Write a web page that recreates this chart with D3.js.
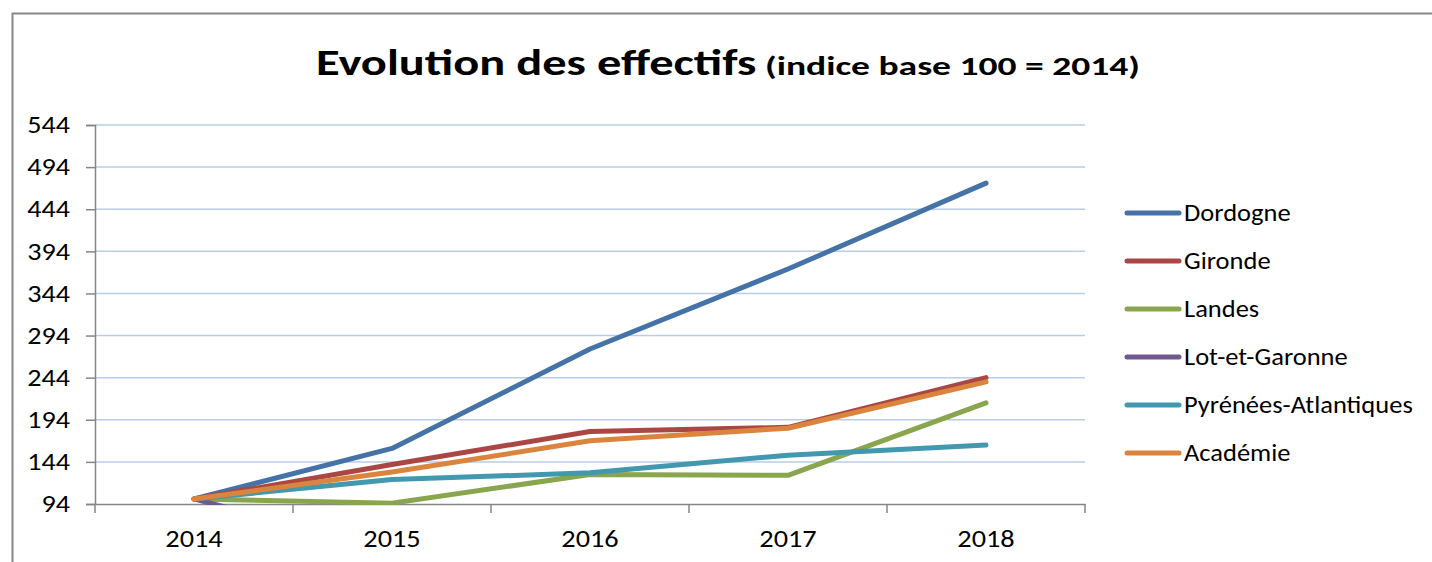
<!DOCTYPE html>
<html><head><meta charset="utf-8">
<script src="https://cdn.jsdelivr.net/npm/d3@7"></script>
<style>body{margin:0;background:#fff;} svg{display:block;}</style>
</head><body>
<script>
const years = ["2014","2015","2016","2017","2018"];
const seriesNames = ["Dordogne","Gironde","Landes","Lot-et-Garonne","Pyrénées-Atlantiques","Académie"];
const dordogne = [100, 160, 278, 373, 475];
const gironde = [100, 141, 180, 185, 244];
const landes = [100, 95, 129, 128, 214];
const lotEtGaronne = [100, 39, 45, 50, 60];
const pyrenees = [100, 123, 131, 152, 164];
const academie = [100, 132, 169, 184, 239];
const yTicks = [94, 144, 194, 244, 294, 344, 394, 444, 494, 544];
const colors = ["#4572A7","#AA4643","#89A54E","#71588F","#4198AF","#DB843D"];
const allValues = [dordogne, gironde, landes, lotEtGaronne, pyrenees, academie];

const W = 1432, H = 562;
const svg = d3.select("body").append("svg").attr("width", W).attr("height", H);
const font = "Carlito, Calibri, Lato, sans-serif";

function stretch(sel, sx) {
  sel.each(function () {
    const t = d3.select(this);
    const x = +t.attr("x") || 0, y = +t.attr("y") || 0;
    t.attr("x", 0).attr("y", 0).attr("transform", `translate(${x},${y}) scale(${sx},1)`);
  });
}

// outer frame
svg.append("rect").attr("x", 12.5).attr("y", 13.5).attr("width", W + 10).attr("height", H + 10)
  .attr("fill", "#fff").attr("stroke", "#888").attr("stroke-width", 2);

const L = 95, R = 1085, T = 125, B = 504;
const x = d3.scaleBand().domain(years).range([L, R]);
const y = d3.scaleLinear().domain([94, 544]).range([B, T]);

// gridlines
svg.append("g").selectAll("line").data(yTicks.slice(1)).join("line")
  .attr("x1", L).attr("x2", R).attr("y1", d => y(d)).attr("y2", d => y(d))
  .attr("stroke", "#B9CDE5").attr("stroke-width", 1.5);

// y axis
const yAxis = svg.append("g").attr("transform", `translate(${L},0)`)
  .call(d3.axisLeft(y).tickValues(yTicks).tickSize(9).tickPadding(16));
yAxis.select(".domain").attr("stroke", "#868686").attr("stroke-width", 1.5);
yAxis.selectAll(".tick line").attr("stroke", "#868686").attr("stroke-width", 1.5);
yAxis.selectAll("text").attr("font-family", font).attr("font-size", 24).attr("fill", "#000");
stretch(yAxis.selectAll("text"), 1.17);

// x axis
const xAxis = svg.append("g").attr("transform", `translate(0,${B})`)
  .call(d3.axisBottom(x).tickSize(0).tickPadding(26));
xAxis.select(".domain").attr("stroke", "#868686").attr("stroke-width", 1.5);
xAxis.selectAll("text").attr("font-family", font).attr("font-size", 24).attr("fill", "#000");
stretch(xAxis.selectAll("text"), 1.18);
const bounds = years.map(d => x(d)).concat([R]);
xAxis.selectAll(".sep").data(bounds).join("line").attr("class", "sep")
  .attr("x1", d => d).attr("x2", d => d).attr("y1", 0).attr("y2", 9)
  .attr("stroke", "#868686").attr("stroke-width", 1.5);

// clip
svg.append("clipPath").attr("id", "clip").append("rect")
  .attr("x", L - 10).attr("y", T - 10).attr("width", R - L + 20).attr("height", B - T + 11);

const line = d3.line().x((d, i) => x(years[i]) + x.bandwidth() / 2).y(d => y(d));
svg.append("g").attr("clip-path", "url(#clip)").selectAll("path").data(allValues).join("path")
  .attr("d", d => line(d)).attr("fill", "none")
  .attr("stroke", (d, i) => colors[i]).attr("stroke-width", 5)
  .attr("stroke-linecap", "round").attr("stroke-linejoin", "round");

// legend
const lg = svg.append("g");
seriesNames.forEach((n, i) => {
  const yy = 213 + i * 48;
  lg.append("line").attr("x1", 1127).attr("x2", 1179).attr("y1", yy).attr("y2", yy)
    .attr("stroke", colors[i]).attr("stroke-width", 5).attr("stroke-linecap", "round");
  const tx = lg.append("text").attr("x", 1184).attr("y", yy + 8).text(n)
    .attr("font-family", font).attr("font-size", 25).attr("fill", "#000");
  stretch(tx, 1.06);
});

// title
const t1 = svg.append("text").attr("x", 316).attr("y", 75)
  .attr("font-family", font).attr("font-weight", "bold").attr("font-size", 37).attr("fill", "#000")
  .text("Evolution des effectifs");
stretch(t1, 1.31);
const t2 = svg.append("text").attr("x", 765).attr("y", 75)
  .attr("font-family", font).attr("font-weight", "bold").attr("font-size", 27).attr("fill", "#000")
  .text("(indice base 100 = 2014)");
stretch(t2, 1.39);
</script>
</body></html>
